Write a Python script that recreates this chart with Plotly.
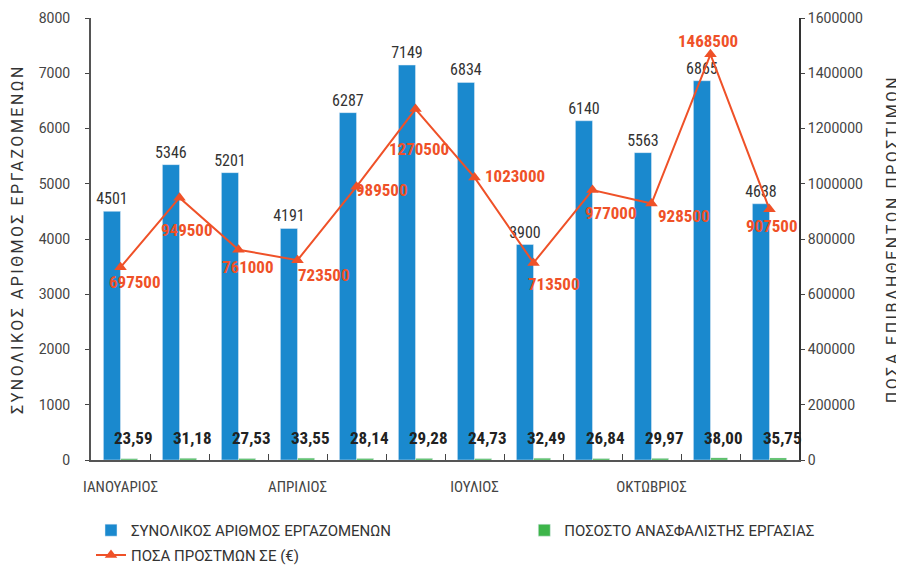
import plotly.graph_objects as go

# Data
months = ["ΙΑΝΟΥΑΡΙΟΣ", "ΦΕΒΡΟΥΑΡΙΟΣ", "ΜΑΡΤΙΟΣ", "ΑΠΡΙΛΙΟΣ", "ΜΑΙΟΣ", "ΙΟΥΝΙΟΣ",
          "ΙΟΥΛΙΟΣ", "ΑΥΓΟΥΣΤΟΣ", "ΣΕΠΤΕΜΒΡΙΟΣ", "ΟΚΤΩΒΡΙΟΣ", "ΝΟΕΜΒΡΙΟΣ", "ΔΕΚΕΜΒΡΙΟΣ"]
tick_labels = ["ΙΑΝΟΥΑΡΙΟΣ", "", "", "ΑΠΡΙΛΙΟΣ", "", "", "ΙΟΥΛΙΟΣ", "", "", "ΟΚΤΩΒΡΙΟΣ", "", ""]
employees = [4501, 5346, 5201, 4191, 6287, 7149, 6834, 3900, 6140, 5563, 6865, 4638]
uninsured_pct = [23.59, 31.18, 27.53, 33.55, 28.14, 29.28, 24.73, 32.49, 26.84, 29.97, 38.00, 35.75]
fines = [697500, 949500, 761000, 723500, 989500, 1270500, 1023000, 713500, 977000, 928500, 1468500, 907500]

NARROW = "Liberation Sans Narrow, Roboto Condensed, sans-serif"
ROBOTO = "Roboto, sans-serif"
ORANGE = "#EF5128"

fig = go.Figure()

fig.add_trace(go.Bar(
    x=months, y=employees, name="ΣΥΝΟΛΙΚΟΣ ΑΡΙΘΜΟΣ ΕΡΓΑΖΟΜΕΝΩΝ",
    marker_color="#1A89CE", legend="legend",
    text=[str(v) for v in employees], textposition="outside",
    textfont=dict(size=16, color="#333333", family=NARROW),
    constraintext="none", cliponaxis=False,
))

fig.add_trace(go.Bar(
    x=months, y=uninsured_pct, name="ΠΟΣΟΣΤΟ ΑΝΑΣΦΑΛΙΣΤΗΣ ΕΡΓΑΣΙΑΣ",
    marker_color="#3DB54A", legend="legend2",
))

fig.add_trace(go.Scatter(
    x=months, y=fines, name="ΠΟΣΑ ΠΡΟΣΤΜΩΝ ΣΕ (€)", yaxis="y2",
    legend="legend3",
    mode="lines+markers",
    line=dict(color=ORANGE, width=2),
    marker=dict(symbol="triangle-up", size=11, color=ORANGE),
    cliponaxis=False,
))

# hand-placed label offsets (px) for the fine labels, as in the original chart
label_dx = [14, 7, 9, 26, 25, 3, 40, 20, 18, 32, -3, 2]
label_dy = [15, 32, 17, 15, 3, 40, -1, 21, 23, 12, -13, 17]
for m, f, dx, dy in zip(months, fines, label_dx, label_dy):
    fig.add_annotation(
        x=m, y=f, xref="x", yref="y2", text=str(f), showarrow=False,
        xshift=dx, yshift=-dy,
        font=dict(size=17, color=ORANGE, family=NARROW, weight="bold"),
    )

# percentage labels above the thin green bars
for m, p in zip(months, uninsured_pct):
    fig.add_annotation(
        x=m, y=0, xref="x", yref="y", text=f"{p:.2f}".replace(".", ","),
        showarrow=False, yanchor="bottom", yshift=10, xshift=13,
        font=dict(size=17, color="#222222", family=NARROW, weight="bold"),
    )

legend_font = dict(size=15, color="#333333", family=ROBOTO)
title_font = dict(size=16, color="#333333", family=ROBOTO)
spaced = '<span style="letter-spacing:2.5px">{}</span>'

# page body adds an 8px offset, so the figure is 8px smaller and shifted
fig.update_layout(
    width=896, height=574,
    margin=dict(l=83, r=105, t=10, b=115),
    plot_bgcolor="white", paper_bgcolor="white",
    font=dict(family=ROBOTO, color="#444444", size=14),
    barmode="group", bargap=0.42, bargroupgap=0,
    showlegend=True,
    legend=dict(x=0.0, y=-0.122, xanchor="left", yanchor="top", font=legend_font),
    legend2=dict(x=0.612, y=-0.122, xanchor="left", yanchor="top", font=legend_font),
    legend3=dict(x=0.0, y=-0.178, xanchor="left", yanchor="top", font=legend_font),
    xaxis=dict(
        type="category", range=[-0.5, 11.5], tickmode="array", tickvals=months, ticktext=tick_labels,
        tickangle=0, tickson="boundaries", ticks="inside", ticklen=6, tickcolor="#444444",
        showline=True, linecolor="#555555", linewidth=2, showgrid=False,
        ticklabelstandoff=12,
        tickfont=dict(size=15, color="#444444", family=NARROW), automargin=False,
    ),
    yaxis=dict(
        range=[0, 8000], dtick=1000, ticks="outside", ticklen=4, tickcolor="#444444",
        showline=True, linecolor="#555555", linewidth=2, showgrid=False, zeroline=False,
        ticklabelstandoff=12,
        tickfont=dict(size=14, color="#444444"), automargin=False,
        title=dict(text=spaced.format("ΣΥΝΟΛΙΚΟΣ ΑΡΙΘΜΟΣ ΕΡΓΑΖΟΜΕΝΩΝ"), font=title_font, standoff=14),
    ),
    yaxis2=dict(
        overlaying="y", side="right", range=[0, 1600000], dtick=200000, tickformat="d",
        ticks="outside", ticklen=4, tickcolor="#444444",
        showline=True, linecolor="#333333", linewidth=2, showgrid=False, zeroline=False,
        tickfont=dict(size=14, color="#444444"), automargin=False,
        title=dict(text=spaced.format("ΠΟΣΑ ΕΠΙΒΛΗΘΕΝΤΩΝ ΠΡΟΣΤΙΜΩΝ"), font=title_font, standoff=25),
    ),
)

fig.write_html("out.html")
